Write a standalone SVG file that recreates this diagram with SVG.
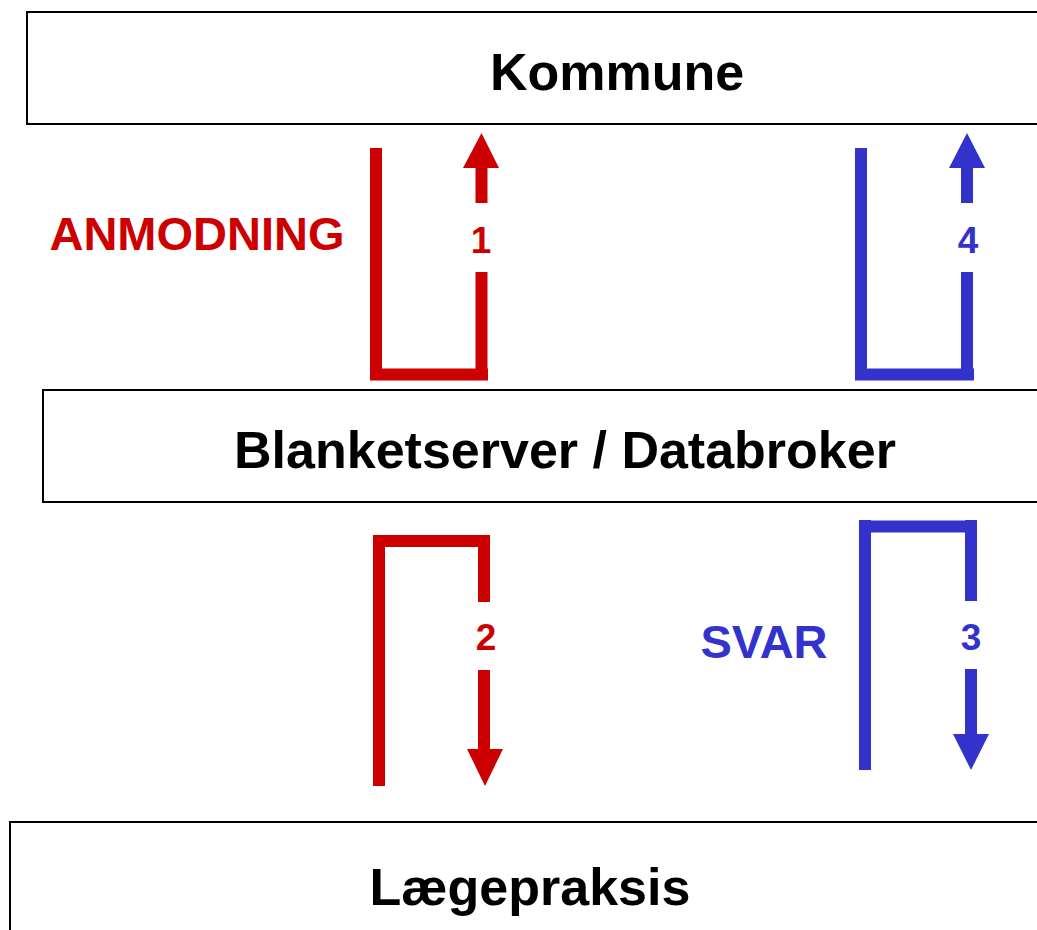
<svg xmlns="http://www.w3.org/2000/svg" width="1037" height="930" viewBox="0 0 1037 930">
<style>
.box{fill:#fff;stroke:#000;stroke-width:2}
.t{font-family:"Liberation Sans",Arial,sans-serif;font-weight:bold;text-anchor:middle}
.node{font-size:52px;fill:#000}
.lab{font-size:47px}
.num{font-size:37px}
.r{stroke:#CC0000;fill:none;stroke-width:12}
.b{stroke:#3333CC;fill:none;stroke-width:12}
.rf{fill:#CC0000}
.bf{fill:#3333CC}
</style>
<rect width="1037" height="930" fill="#fff"/>
<g id="kommune">
<rect class="box" x="27" y="12" width="1020" height="112"/>
<text class="t node" x="617" y="90">Kommune</text>
</g>
<g id="blanketserver">
<rect class="box" x="43" y="390" width="1004" height="112"/>
<text class="t node" x="565" y="468">Blanketserver / Databroker</text>
</g>
<g id="laegepraksis">
<rect class="box" x="10" y="822" width="1037" height="120"/>
<text class="t node" x="530" y="905">Lægepraksis</text>
</g>
<g id="connectors">
<!-- 1 -->
<path class="r" d="M376,148 V380 M370,374.5 H488 M481.5,380 V272 M481.5,203 V166"/>
<polygon class="rf" points="463,168 499,168 481.5,133"/>
<text class="t num rf" x="481" y="253">1</text>
<!-- 4 -->
<path class="b" d="M861,148 V380 M855,374.5 H974 M967,380 V272 M967,203 V166"/>
<polygon class="bf" points="949,168 985,168 967,133"/>
<text class="t num bf" x="968" y="253">4</text>
<!-- 2 -->
<path class="r" d="M379,786 V535 M373,541 H490 M484,547 V602 M484,670 V751"/>
<polygon class="rf" points="467,749 503,749 485,786"/>
<text class="t num rf" x="486" y="650">2</text>
<!-- 3 -->
<path class="b" d="M865,770 V520 M859,526.5 H976 M971,520 V601 M971,669 V736"/>
<polygon class="bf" points="953,734 989,734 971,770"/>
<text class="t num bf" x="971" y="650">3</text>
<text class="t lab rf" x="197" y="250">ANMODNING</text>
<text class="t lab bf" x="764" y="658">SVAR</text>
</g>
</svg>
